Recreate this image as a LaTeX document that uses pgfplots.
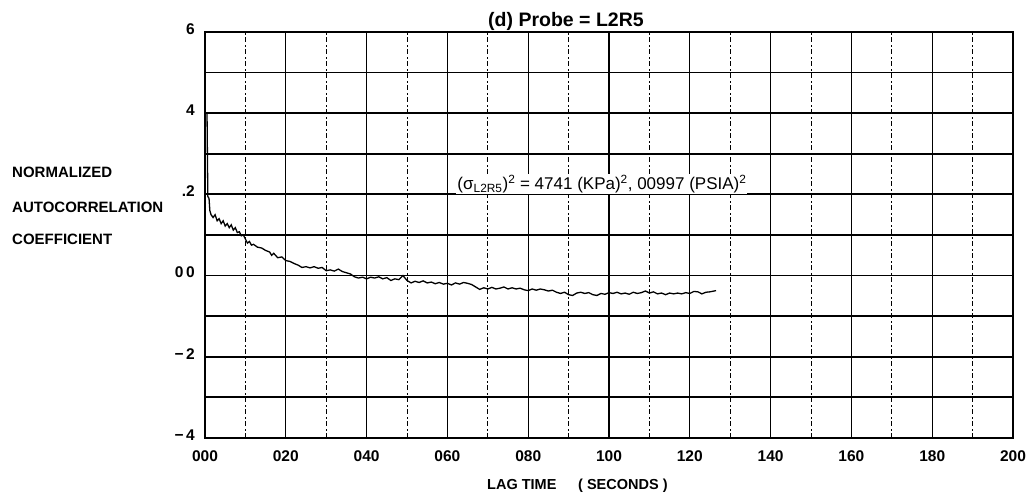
\documentclass[border=0pt]{standalone}
\usepackage{fontspec}
\setmainfont{Liberation Sans}
\usepackage{pgfplots}
\pgfplotsset{compat=1.18}

% autocorrelation (lag in s, coefficient)
\pgfplotstableread{
x y
0.0005 0.400
0.0007 0.195
0.0010 0.190
0.0012 0.160
0.0015 0.150
0.0020 0.143
0.0025 0.150
0.0030 0.135
0.0035 0.140
0.0040 0.128
0.0045 0.135
0.0050 0.122
0.0055 0.128
0.0060 0.118
0.0065 0.125
0.0070 0.112
0.0075 0.118
0.0080 0.106
0.0085 0.108
0.0090 0.098
0.0095 0.100
0.0100 0.090
0.0105 0.080
0.0110 0.084
0.0115 0.075
0.0120 0.077
0.0130 0.070
0.0140 0.068
0.0150 0.062
0.0160 0.058
0.0165 0.050
0.0170 0.055
0.0180 0.044
0.0190 0.046
0.0200 0.037
0.0210 0.035
0.0220 0.030
0.0230 0.026
0.0240 0.020
0.0250 0.022
0.0260 0.019
0.0270 0.022
0.0280 0.018
0.0290 0.020
0.0300 0.012
0.0310 0.014
0.0320 0.011
0.0330 0.016
0.0340 0.010
0.0350 0.007
0.0360 0.004
0.0370 -0.003
0.0380 -0.006
0.0390 -0.004
0.0400 -0.008
0.0410 -0.004
0.0420 -0.006
0.0430 -0.003
0.0440 -0.008
0.0450 -0.005
0.0460 -0.012
0.0470 -0.008
0.0480 -0.010
0.0490 0.000
0.0500 -0.012
0.0510 -0.018
0.0520 -0.014
0.0530 -0.017
0.0540 -0.013
0.0550 -0.018
0.0560 -0.016
0.0570 -0.020
0.0580 -0.017
0.0590 -0.021
0.0600 -0.019
0.0610 -0.023
0.0620 -0.018
0.0630 -0.021
0.0640 -0.017
0.0650 -0.019
0.0660 -0.022
0.0670 -0.028
0.0680 -0.034
0.0690 -0.030
0.0700 -0.033
0.0710 -0.029
0.0720 -0.033
0.0730 -0.031
0.0740 -0.028
0.0750 -0.033
0.0760 -0.030
0.0770 -0.033
0.0780 -0.031
0.0790 -0.035
0.0800 -0.037
0.0810 -0.033
0.0820 -0.036
0.0830 -0.033
0.0840 -0.035
0.0850 -0.038
0.0860 -0.036
0.0870 -0.041
0.0880 -0.044
0.0890 -0.041
0.0900 -0.047
0.0910 -0.049
0.0920 -0.043
0.0930 -0.041
0.0940 -0.044
0.0950 -0.042
0.0960 -0.047
0.0970 -0.049
0.0980 -0.044
0.0990 -0.046
0.1000 -0.042
0.1010 -0.044
0.1020 -0.041
0.1030 -0.045
0.1040 -0.043
0.1050 -0.046
0.1060 -0.041
0.1070 -0.044
0.1080 -0.042
0.1090 -0.038
0.1100 -0.043
0.1110 -0.040
0.1120 -0.045
0.1130 -0.043
0.1140 -0.047
0.1150 -0.043
0.1160 -0.045
0.1170 -0.043
0.1180 -0.045
0.1190 -0.042
0.1200 -0.044
0.1210 -0.039
0.1220 -0.040
0.1230 -0.045
0.1240 -0.041
0.1250 -0.040
0.1260 -0.038
0.1265 -0.037
}\acdata

\begin{document}
\begin{tikzpicture}
\useasboundingbox (-205pt,-57pt) rectangle (828pt,438pt);
\begin{axis}[
    at={(0,0)}, anchor=south west,
    scale only axis,
    width=808pt, height=406pt,
    xmin=0, xmax=0.2, ymin=-0.4, ymax=0.6,
    xtick={0,0.02,0.04,0.06,0.08,0.1,0.12,0.14,0.16,0.18,0.2},
    xticklabels={000,020,040,060,080,100,120,140,160,180,200},
    minor xtick={0.01,0.03,0.05,0.07,0.09,0.11,0.13,0.15,0.17,0.19},
    ytick={-0.4,-0.3,-0.2,-0.1,0,0.1,0.2,0.3,0.4,0.5,0.6},
    yticklabels={−\,4,,−\,2,,0\,0,,.2,,4,,6\hspace{8pt}},
    major tick length=0pt, minor tick length=0pt,
    grid=both,
    major x grid style={black, line width=1.1pt},
    minor x grid style={black, line width=0.9pt, dash pattern=on 5pt off 2pt on 2pt off 3pt},
    major y grid style={black, line width=1.8pt},
    axis line style={black, line width=2pt},
    ticklabel style={font=\fontsize{15.5}{17}\selectfont\bfseries},
    xticklabel style={anchor=north, inner sep=0pt, yshift=-12pt},
    yticklabel style={anchor=east, inner sep=0pt, xshift=-10pt, yshift=3pt},
    clip=true,
]
\addplot[black, line width=1.3pt] table[x=x, y=y] {\acdata};
\node[anchor=base west, fill=white, inner sep=1pt, font=\fontsize{17}{19}\selectfont]
    at (axis cs:0.0622,0.211)
    {(σ\textsubscript{L2R5})\textsuperscript{2} = 4741 (KPa)\textsuperscript{2},\ 00997 (PSIA)\textsuperscript{2}};
\end{axis}
% title
\node[anchor=base west, inner sep=0pt, font=\fontsize{19.5}{22}\selectfont\bfseries] at (283pt,411pt) {(d) Probe = L2R5};
% y label, set as three lines to the left
\begin{scope}[every node/.style={anchor=base west, inner sep=0pt, font=\fontsize{15}{17}\selectfont\bfseries}]
\node at (-193pt,260pt) {NORMALIZED};
\node at (-193pt,225pt) {AUTOCORRELATION};
\node at (-193pt,193pt) {COEFFICIENT};
\end{scope}
% x label
\node[anchor=base west, inner sep=0pt, font=\fontsize{14.5}{17}\selectfont\bfseries] at (282pt,-52pt) {LAG TIME};
\node[anchor=base west, inner sep=0pt, font=\fontsize{14.5}{17}\selectfont\bfseries] at (373pt,-52pt) {( SECONDS )};
\end{tikzpicture}
\end{document}
